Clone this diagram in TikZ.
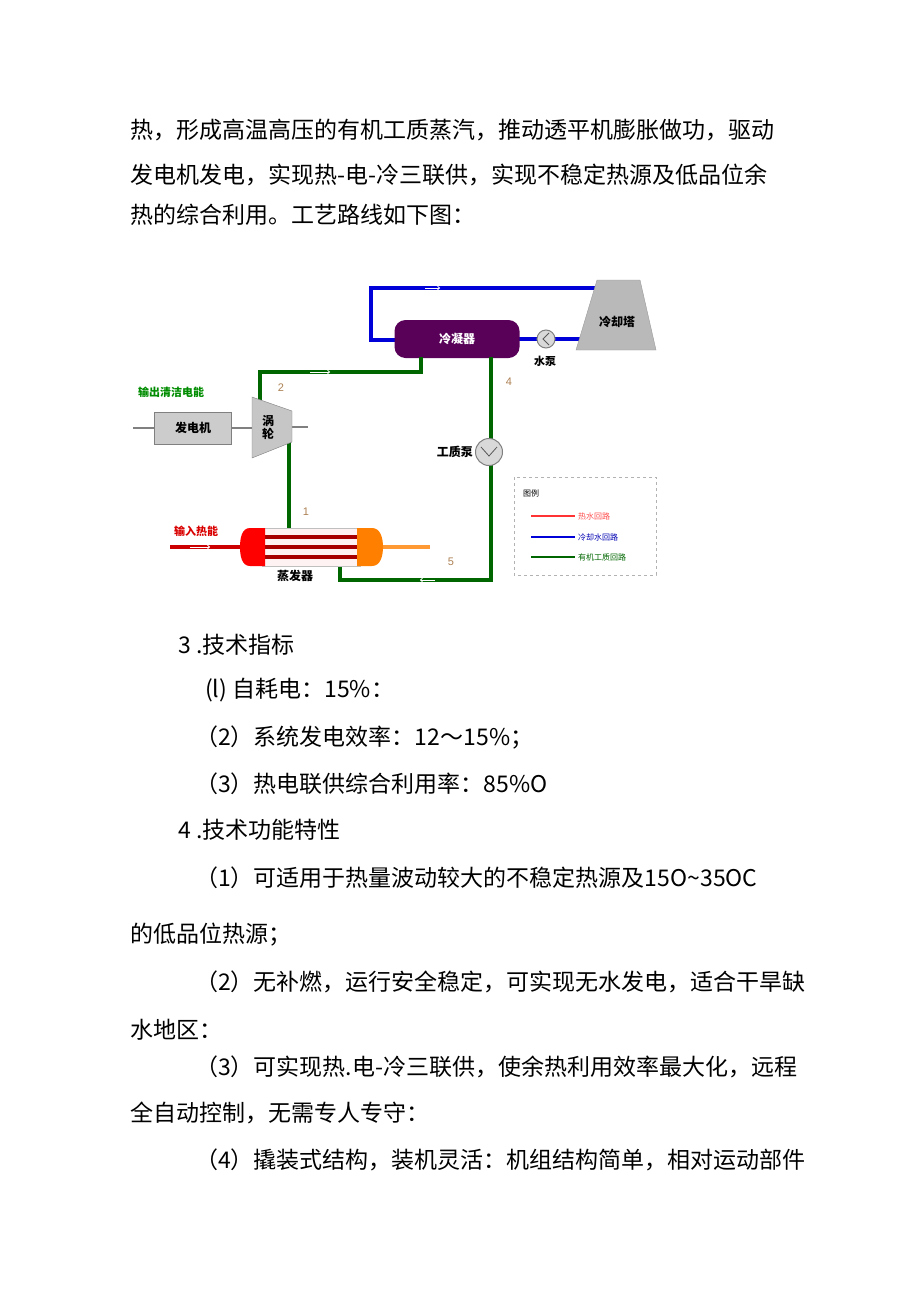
\documentclass[tikz,border=0pt]{standalone}
\usepackage{fontspec}
\setmainfont{Liberation Sans}
\newfontfamily\cjk{Noto Sans CJK SC}
\begin{document}
\begin{tikzpicture}[x=1pt,y=-1pt,
 body/.style={anchor=west,font=\cjk\fontsize{23}{23}\selectfont,inner sep=0},
 lbl/.style={font=\cjk\fontsize{11}{11}\selectfont,inner sep=1},
 num/.style={font=\fontsize{11}{11}\selectfont,text=brown!70!gray},
 gp/.style={line width=4.5pt,draw=green!40!black},
 bp/.style={line width=4.5pt,draw=blue!85!black},
 rp/.style={line width=4.5pt,draw=red!80!black}]
\useasboundingbox (0,0) rectangle (920,1301);
% paragraph
\node[body] (t1) at (130,130) {热，形成高温高压的有机工质蒸汽，推动透平机膨胀做功，驱动};
\node[body] (t2) at (130,175) {发电机发电，实现热-电-冷三联供，实现不稳定热源及低品位余};
\node[body] (t3) at (130,215) {热的综合利用。工艺路线如下图：};
% cooling loop
\coordinate (bl1) at (371,340);
\coordinate (bl2) at (371,288);
\coordinate (bl3) at (600,288);
\draw[bp] (400,340) -- (bl1) -- (bl2) -- (bl3);
\draw[bp] (515,339) -- (580,339);
\path[fill=gray!55,draw=gray!80] (597,280) -- (640,280) -- (656,350) -- (576,350) -- cycle;
\node[lbl,font=\cjk\bfseries\fontsize{12}{12}\selectfont] (ct) at (617,322) {冷却塔};
\node[fill=violet!70!black,rounded corners=11pt,minimum width=125pt,minimum height=38pt,text=white,font=\cjk\bfseries\fontsize{12}{12}\selectfont] (cond) at (457,339) {冷凝器};
\node[circle,draw=gray,fill=gray!30,line width=1pt,minimum size=18pt] (wp) at (546,339) {};
\draw[gray!70!black,line width=0.8pt] (549,333) -- (543,339) -- (549,345);
\node[lbl,font=\cjk\bfseries\fontsize{11}{11}\selectfont] (wpl) at (545,361) {水泵};
% organic loop
\coordinate (g1) at (421,372);
\coordinate (g2) at (260,372);
\draw[gp] (421,357) -- (g1) -- (g2) -- (260,400);
\draw[gp] (289,435) -- (289,528);
\draw[gp] (340,562) -- (340,580) -- (491,580) -- (491,357);
\draw[white,line width=1pt,->] (310,372) -- (330,372);
\draw[white,line width=1pt,->] (425,288) -- (440,288);
\draw[white,line width=1pt,->] (435,580) -- (420,580);
% turbine & generator
\draw[gray,line width=1.5pt] (133,428) -- (160,428);
\draw[gray,line width=1.5pt] (285,427) -- (308,427);
\node[draw=gray,fill=gray!40,minimum width=77pt,minimum height=32pt,font=\cjk\bfseries\fontsize{12}{12}\selectfont] (gen) at (193,428) {发电机};
\draw[gray,line width=1.5pt] (232,428) -- (253,428);
\path[fill=gray!45,draw=gray] (252,397) -- (292,411) -- (292,442) -- (252,458) -- cycle;
\node[lbl,align=center,font=\cjk\bfseries\fontsize{12}{13}\selectfont] (tur) at (268,427) {涡\\轮};
\node[lbl,text=green!55!black,font=\cjk\bfseries\itshape\fontsize{11}{11}\selectfont] (out) at (171,392) {输出清洁电能};
% evaporator
\draw[rp] (170,547) -- (242,547);
\draw[line width=4.5pt,draw=orange!80] (380,547) -- (430,547);
\draw[white,line width=1pt,->] (190,547) -- (210,547);
\path[fill=red!5,draw=gray!50] (262,528) rectangle (360,566);
\foreach \yy in {535,545,555}{\fill[red!65!black] (262,\yy) rectangle (360,\yy+4);}
\path[fill=red] (265,528) -- (250,528) to[out=180,in=90] (240,547) to[out=-90,in=180] (250,566) -- (265,566) -- cycle;
\path[fill=orange] (357,528) -- (372,528) to[out=0,in=90] (383,547) to[out=-90,in=0] (372,566) -- (357,566) -- cycle;
\node[lbl,text=red!85!black,font=\cjk\bfseries\itshape\fontsize{11}{11}\selectfont] (in) at (196,531) {输入热能};
\node[lbl,font=\cjk\bfseries\fontsize{12}{12}\selectfont] (ev) at (295,576) {蒸发器};
% pump
\node[circle,draw=gray,fill=gray!30,line width=1pt,minimum size=27pt] (pump) at (489,452) {};
\draw[gray!70!black,line width=0.8pt] (481,447) -- (489,456) -- (497,447);
\node[lbl,font=\cjk\bfseries\fontsize{12}{12}\selectfont,anchor=east] (pl) at (474,452) {工质泵};
% numbers
\node[num] (n1) at (306,512) {1};
\node[num] (n2) at (281,388) {2};
\node[num] (n4) at (509,382) {4};
\node[num] (n5) at (451,562) {5};
% legend
\draw[gray!60,dashed] (514,477) rectangle (656,575);
\node[lbl,font=\cjk\fontsize{8}{8}\selectfont] (lg) at (531,493) {图例};
\draw[red!80,line width=2pt] (531,516) -- (575,516);
\draw[blue!85!black,line width=2pt] (531,537) -- (575,537);
\draw[green!40!black,line width=2pt] (531,557) -- (575,557);
\node[lbl,anchor=west,text=red!70,font=\cjk\fontsize{8}{8}\selectfont] (l1) at (577,516) {热水回路};
\node[lbl,anchor=west,text=blue!70!black,font=\cjk\fontsize{8}{8}\selectfont] (l2) at (577,537) {冷却水回路};
\node[lbl,anchor=west,text=green!40!black,font=\cjk\fontsize{8}{8}\selectfont] (l3) at (577,557) {有机工质回路};
% sections
\node[body] (s3) at (178,645) {3 .技术指标};
\node[body] (a1) at (205,690) {(l) 自耗电：15\%：};
\node[body] (a2) at (195,737) {（2）系统发电效率：12～15\%；};
\node[body] (a3) at (195,784) {（3）热电联供综合利用率：85\%O};
\node[body] (s4) at (178,830) {4 .技术功能特性};
\node[body] (b1) at (195,878) {（1）可适用于热量波动较大的不稳定热源及15O\textasciitilde 35OC};
\node[body] (b1b) at (130,935) {的低品位热源；};
\node[body] (b2) at (195,982) {（2）无补燃，运行安全稳定，可实现无水发电，适合干旱缺};
\node[body] (b2b) at (130,1030) {水地区：};
\node[body] (b3) at (195,1067) {（3）可实现热.电-冷三联供，使余热利用效率最大化，远程};
\node[body] (b3b) at (130,1113) {全自动控制，无需专人专守：};
\node[body] (b4) at (195,1160) {（4）撬装式结构，装机灵活：机组结构简单，相对运动部件};
\end{tikzpicture}
\end{document}
